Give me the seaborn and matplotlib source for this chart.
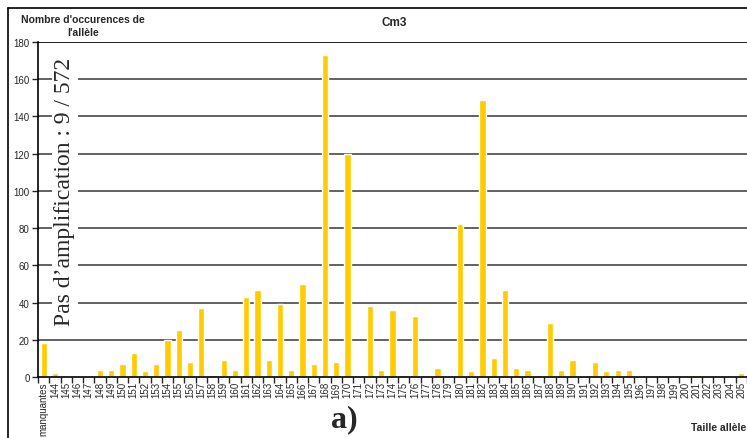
import matplotlib
matplotlib.use("Agg")
import matplotlib.pyplot as plt
import seaborn as sns
import pandas as pd

# categories and counts
categories = ["manquantes"] + [str(i) for i in range(144, 206)]
counts = [18, 2, 0, 0, 0, 4, 4, 7, 13, 3,
          7, 20, 25, 8, 37, 1, 9, 4, 43, 47,
          9, 39, 4, 50, 7, 173, 8, 120, 0, 38,
          4, 36, 1, 33, 0, 5, 0, 82, 3, 149,
          10, 47, 5, 4, 1, 29, 4, 9, 0, 8,
          3, 4, 4, 0, 0, 0, 0, 0, 1, 0,
          0, 0, 2]
y_ticks = list(range(0, 181, 20))

df = pd.DataFrame({"taille": categories, "n": counts})

sns.set_style("white")
plt.rcParams['font.family'] = ['Liberation Sans', 'DejaVu Sans']

fig = plt.figure(figsize=(7.47, 4.39), dpi=100)
ax = fig.add_axes([0.051, 0.139, 0.949, 0.763])

sns.barplot(data=df, x="taille", y="n", order=categories, color="#FFCC00",
            width=0.55, saturation=1, ax=ax)

ax.set_ylim(0, 180)
ax.set_xlim(-0.5, len(categories) - 0.5)
ax.set_yticks(y_ticks)
ax.set_yticklabels([str(v) for v in y_ticks], fontsize=7)
ax.set_xticks(range(len(categories)))
ax.set_xticklabels(categories, rotation=90, fontsize=7)
ax.tick_params(axis="x", length=0, pad=3)
ax.tick_params(axis="y", length=4, width=1, direction="out", pad=2, left=True)
# ticks between categories like Excel
ax.set_xticks([i - 0.5 for i in range(len(categories) + 1)], minor=True)
ax.tick_params(axis="x", which="minor", length=4, width=1, direction="out", bottom=True)

for v in y_ticks[1:]:
    ax.axhline(v, color="#555555" if v < 180 else "#111111", lw=1.3, zorder=0)

for s in ["top", "right"]:
    ax.spines[s].set_visible(False)
for s in ["left", "bottom"]:
    ax.spines[s].set_color("black")
    ax.spines[s].set_linewidth(1.2)
ax.set_xlabel("")
ax.set_ylabel("")

# outer frame of the chart area
fig.add_artist(plt.Line2D([0.011, 1.0], [0.979, 0.979], color="black", lw=1.2,
                          transform=fig.transFigure))
fig.add_artist(plt.Line2D([0.011, 0.011], [0.0, 0.979], color="black", lw=1.2,
                          transform=fig.transFigure))

fig.text(0.528, 0.948, "Cm3", ha="center", va="center", fontsize=8.5, fontweight="bold")
fig.text(0.111, 0.94, "Nombre d'occurences de\nl'allèle", ha="center", va="center",
         fontsize=7.5, fontweight="bold", linespacing=1.3)
fig.text(0.962, 0.025, "Taille allèle", ha="center", va="center",
         fontsize=7.5, fontweight="bold")
fig.text(0.461, 0.045, "a)", ha="center", va="center", fontsize=23,
         fontweight="bold", family="Liberation Serif")
fig.text(0.087, 0.563, "Pas d\u2019amplification : 9 / 572", ha="center", va="center",
         rotation=90, fontsize=17, family="Liberation Serif",
         bbox=dict(facecolor="white", edgecolor="none", pad=2))

fig.savefig("out.png", dpi=100)
